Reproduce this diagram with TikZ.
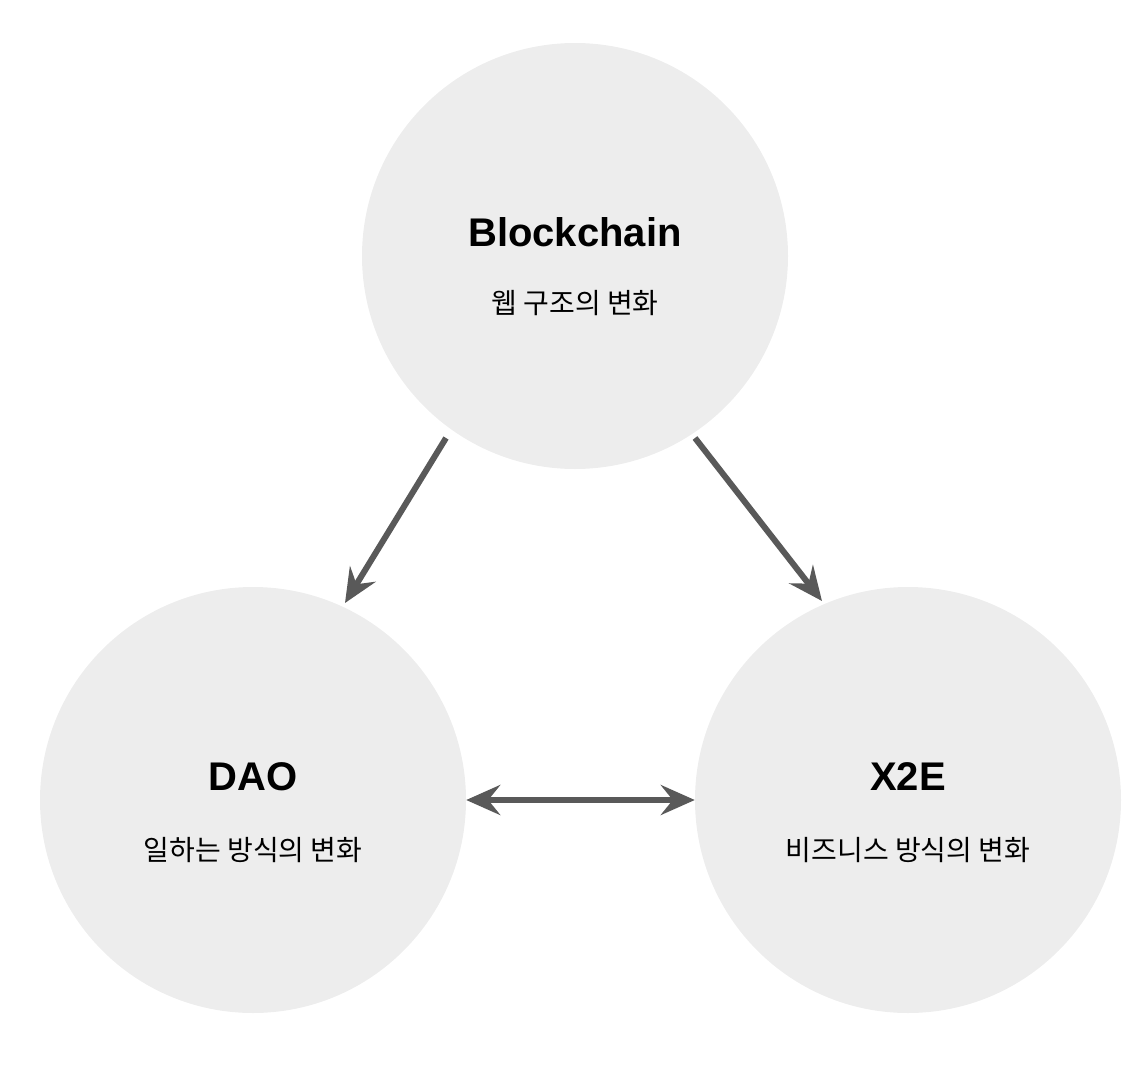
\documentclass[tikz,border=0pt]{standalone}
\usepackage{fontspec}
\setmainfont{Liberation Sans}
\newfontfamily\kr{Noto Sans CJK KR}
\usetikzlibrary{arrows.meta}
\definecolor{cfill}{HTML}{EDEDED}
\definecolor{arr}{HTML}{595959}
\tikzset{
 circ/.style={circle,fill=cfill,minimum size=426pt,inner sep=0},
 ttl/.style={font=\fontsize{40}{44}\selectfont\bfseries},
 sub/.style={font=\kr\fontsize{28}{32}\selectfont},
 conn/.style={draw=arr,line width=6pt,-{Stealth[length=34pt,width=30pt,inset=12pt]}},
}
\begin{document}
\begin{tikzpicture}[x=1pt,y=-1pt]
\useasboundingbox (0,0) rectangle (1140,1070);
\node[circ] (b) at (575,256) {};
\node[circ] (d) at (253,800) {};
\node[circ] (x) at (908,800) {};
\node[ttl] (bt) at (575,232) {Blockchain};
\node[sub] (bs) at (575,303) {웹 구조의 변화};
\node[ttl] (dt) at (253,777) {DAO};
\node[sub] (ds) at (253,850) {일하는 방식의 변화};
\node[ttl] (xt) at (908,777) {X2E};
\node[sub] (xs) at (908,850) {비즈니스 방식의 변화};
\coordinate (a1s) at (446,438); \coordinate (a1e) at (345,603);
\coordinate (a2s) at (695,438); \coordinate (a2e) at (822,601);
\draw[conn] (a1s) -- (a1e);
\draw[conn] (a2s) -- (a2e);
\draw[conn,{Stealth[length=34pt,width=30pt,inset=12pt]}-{Stealth[length=34pt,width=30pt,inset=12pt]}] (d.east) -- (x.west);
\end{tikzpicture}
\end{document}
